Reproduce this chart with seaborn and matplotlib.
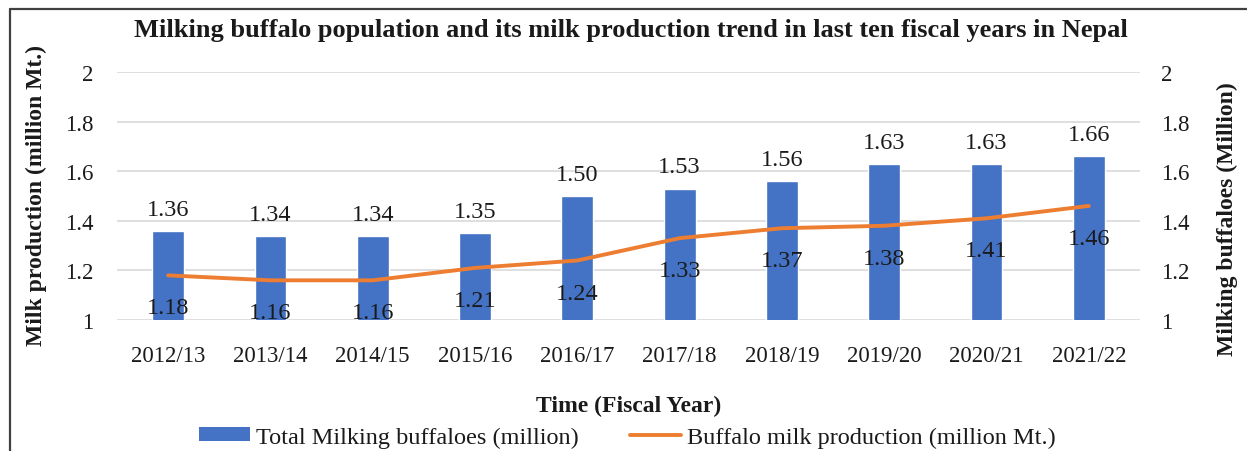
import numpy as np
import pandas as pd
import matplotlib
matplotlib.use("Agg")
import matplotlib.pyplot as plt
from matplotlib.lines import Line2D
from matplotlib.patches import Patch
import seaborn as sns

years = ["2012/13", "2013/14", "2014/15", "2015/16", "2016/17",
         "2017/18", "2018/19", "2019/20", "2020/21", "2021/22"]
buffaloes = [1.36, 1.34, 1.34, 1.35, 1.50, 1.53, 1.56, 1.63, 1.63, 1.66]
milk = [1.18, 1.16, 1.16, 1.21, 1.24, 1.33, 1.37, 1.38, 1.41, 1.46]
yticks = [1, 1.2, 1.4, 1.6, 1.8, 2]
ytick_labels = ["1", "1.2", "1.4", "1.6", "1.8", "2"]

BLUE = "#4472C4"
ORANGE = "#ED7D31"
TXT = "#1a1a1a"

sns.set_theme(style="white")
plt.rcParams["font.family"] = ["Liberation Serif", "DejaVu Serif"]

df = pd.DataFrame({"year": years, "buffaloes": buffaloes, "milk": milk})

fig = plt.figure(figsize=(12.47, 4.52), dpi=100)
ax = fig.add_axes([117/1247, 1-321/452, (1140-117)/1247, (321-73)/452])
ax2 = ax.twinx()

sns.barplot(data=df, x="year", y="buffaloes", color=BLUE, width=0.31,
            saturation=1, ax=ax, zorder=2)
sns.lineplot(data=df, x="year", y="milk", color=ORANGE, linewidth=2.8,
             sort=False, ax=ax2, zorder=3)

for a in (ax, ax2):
    a.set_ylim(1, 2)
    a.set_yticks(yticks)
    a.set_yticklabels(ytick_labels)
    for s in a.spines.values():
        s.set_visible(False)
    a.tick_params(axis="both", length=0, labelsize=16.5, colors=TXT)
ax.set_xlim(-0.5, 9.5)
ax.grid(axis="y", color="#d9d9d9", linewidth=1.2, zorder=0)
ax.set_axisbelow(True)
ax2.grid(False)
ax.tick_params(axis="y", pad=17)
ax2.tick_params(axis="y", pad=15)
ax.tick_params(axis="x", pad=18)

for i, v in enumerate(buffaloes):
    ax.annotate(f"{v:.2f}", (i, v), xytext=(0, 8), textcoords="offset points",
                ha="center", va="bottom", fontsize=17.5, color=TXT)
for i, v in enumerate(milk):
    ax2.annotate(f"{v:.2f}", (i, v), xytext=(0, -23.5), textcoords="offset points",
                 ha="center", va="center", fontsize=17.5, color=TXT)

ax.set_xlabel("Time (Fiscal Year)", fontsize=17, fontweight="bold", color=TXT,
              labelpad=21)
ax.set_ylabel("Milk production (million Mt.)", fontsize=17, fontweight="bold",
              color=TXT)
ax2.set_ylabel("Milking buffaloes (Million)", fontsize=17, fontweight="bold",
               color=TXT)
ax.yaxis.set_label_coords(-0.068, 0.508)
ax2.yaxis.set_label_coords(1.075, 0.41)

fig.text(0.506, 1-30/452, "Milking buffalo population and its milk production trend in last ten fiscal years in Nepal",
         ha="center", va="center", fontsize=19, fontweight="bold", color=TXT)

handles = [Patch(facecolor=BLUE, edgecolor="none"),
           Line2D([0], [0], color=ORANGE, linewidth=2.8)]
labels = ["Total Milking buffaloes (million)", "Buffalo milk production (million Mt.)"]
fig.legend(handles, labels, loc="center", bbox_to_anchor=(0.503, 1-438/452),
           ncol=2, frameon=False, fontsize=17.5, handlelength=2.1, handleheight=0.5,
           columnspacing=2.1, handletextpad=0.25, labelcolor=TXT)

fig.add_artist(Line2D([10/1247, 1], [1-10/452, 1-10/452], color="#404040", linewidth=1.6,
                      transform=fig.transFigure))
fig.add_artist(Line2D([10/1247, 10/1247], [0, 1-10/452], color="#404040", linewidth=1.6,
                      transform=fig.transFigure))

fig.savefig("out.png", dpi=100)
